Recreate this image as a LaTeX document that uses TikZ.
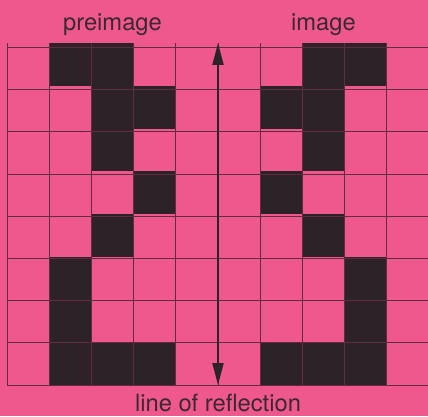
\documentclass[tikz,border=0pt]{standalone}
\usepackage{fontspec}
\setmainfont{TeX Gyre Heros}
\usetikzlibrary{arrows.meta}
\definecolor{pinkbg}{RGB}{238,88,140}
\definecolor{cellink}{RGB}{45,34,40}
\definecolor{gridink}{RGB}{95,45,62}
\definecolor{textink}{RGB}{60,40,48}

\begin{document}
\begin{tikzpicture}[x=1cm,y=1.013cm]
        \fill[pinkbg] (-0.166,-0.725) rectangle (9.976,9.006);
        \useasboundingbox (-0.166,-0.725) rectangle (9.976,9.006);

        \coordinate (T) at (5,8);
        \coordinate (B) at (5,0);

        % preimage
        \fill[cellink] (1,7) rectangle (3,8);
        \fill[cellink] (2,6) rectangle (4,7);
        \fill[cellink] (2,5) rectangle (3,6);
        \fill[cellink] (3,4) rectangle (4,5);
        \fill[cellink] (2,3) rectangle (3,4);
        \fill[cellink] (1,1) rectangle (2,3);
        \fill[cellink] (1,0) rectangle (4,1);
        % image
        \fill[cellink] (7,7) rectangle (9,8);
        \fill[cellink] (6,6) rectangle (8,7);
        \fill[cellink] (7,5) rectangle (8,6);
        \fill[cellink] (6,4) rectangle (7,5);
        \fill[cellink] (7,3) rectangle (8,4);
        \fill[cellink] (8,1) rectangle (9,3);
        \fill[cellink] (6,0) rectangle (9,1);

        \draw[gridink,line width=0.6pt] (0,0) grid (10,8);

        \draw[{Triangle[length=5.2mm,width=2.6mm]}-{Triangle[length=5.2mm,width=2.6mm]},
            line width=1.3pt,cellink] (T) -- (B);

        \node[anchor=base,textink,font=\fontsize{16}{19}\selectfont] (pre) at (2.5,8.29) {preimage};
        \node[anchor=base,textink,font=\fontsize{16}{19}\selectfont] (img) at (7.5,8.29) {image};
        \node[anchor=base,textink,font=\fontsize{16}{19}\selectfont] (lor) at (5,-0.61) {line of reflection};
    \end{tikzpicture}
\end{document}
